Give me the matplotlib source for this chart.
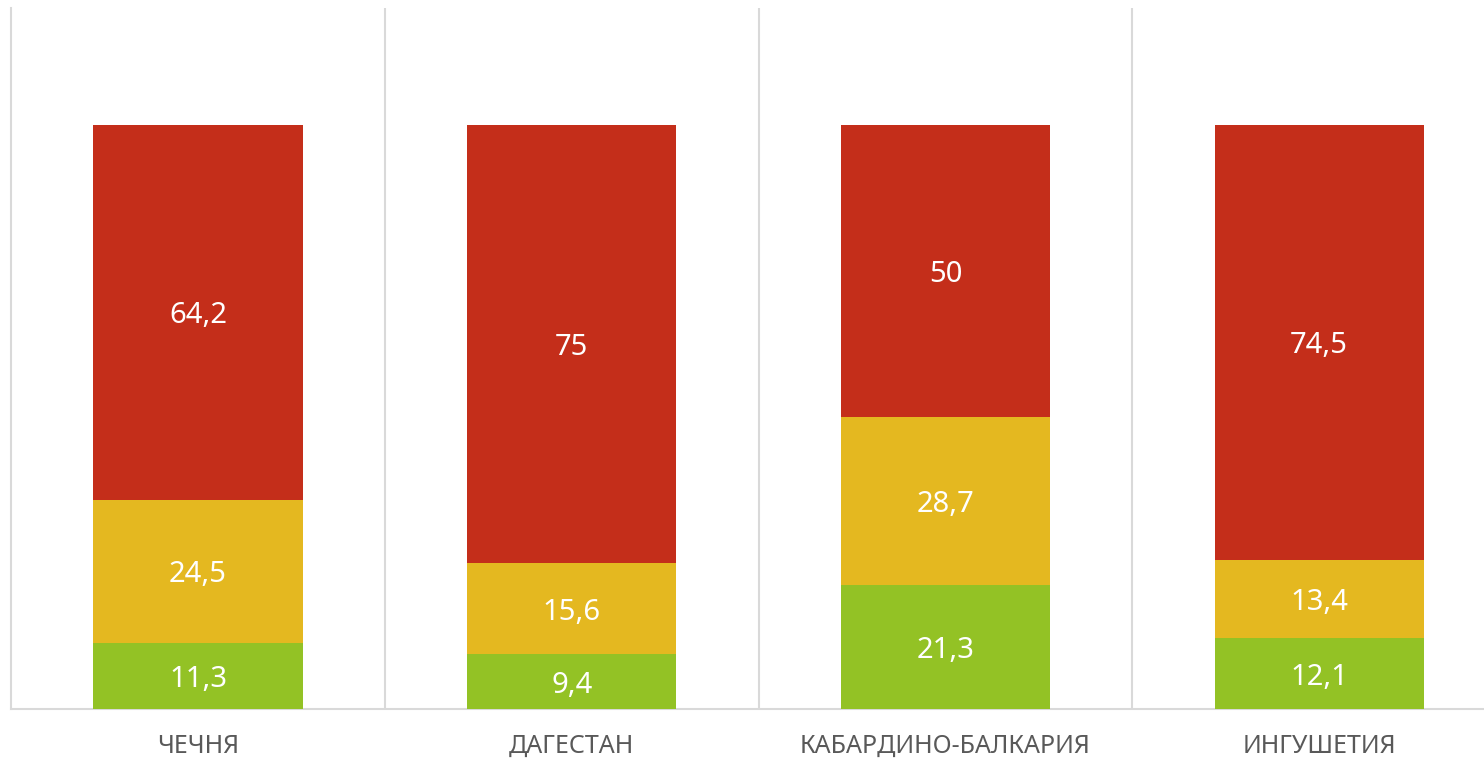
import matplotlib.pyplot as plt
import numpy as np

# data
regions = ['ЧЕЧНЯ', 'ДАГЕСТАН', 'КАБАРДИНО-БАЛКАРИЯ', 'ИНГУШЕТИЯ']
green_vals = [11.3, 9.4, 21.3, 12.1]
yellow_vals = [24.5, 15.6, 28.7, 13.4]
red_vals = [64.2, 75, 50, 74.5]

colors = ['#93C225', '#E4B820', '#C42E1A']

fig = plt.figure(figsize=(14.84, 7.63), dpi=100)
ax = fig.add_axes([11.2 / 1484, 1 - 709 / 763, 1 - 11.2 / 1484, 701 / 763])

x = np.arange(len(regions))
width = 0.56
bottom = np.zeros(len(regions))
for vals, c in zip([green_vals, yellow_vals, red_vals], colors):
    vals = np.array(vals)
    ax.bar(x, vals, width, bottom=bottom, color=c, zorder=3)
    for xi, b, v in zip(x, bottom, vals):
        lbl = ('%g' % v).replace('.', ',')
        ax.text(xi, b + v / 2, lbl, ha='center', va='center_baseline', color='white',
                fontsize=21, family='Noto Sans', zorder=4)
    bottom += vals

ax.set_xlim(-0.5, (1484 - 11.2) / 373.7 - 0.5)
ax.set_ylim(0, 120)

# category separators
for sep in [0.5, 1.5, 2.5]:
    ax.axvline(sep, color='#D9D9D9', lw=1.5, zorder=1)

for s in ['top', 'right']:
    ax.spines[s].set_visible(False)
ax.spines['left'].set_color('#D9D9D9')
ax.spines['left'].set_linewidth(1.5)
ax.spines['bottom'].set_color('#D9D9D9')
ax.spines['bottom'].set_linewidth(1.5)

ax.set_yticks([])
ax.set_xticks(x)
ax.set_xticklabels(regions, fontsize=18, color='#595959', family='Noto Sans')
ax.tick_params(axis='x', length=0, pad=18)

fig.savefig('out.png', dpi=100)
